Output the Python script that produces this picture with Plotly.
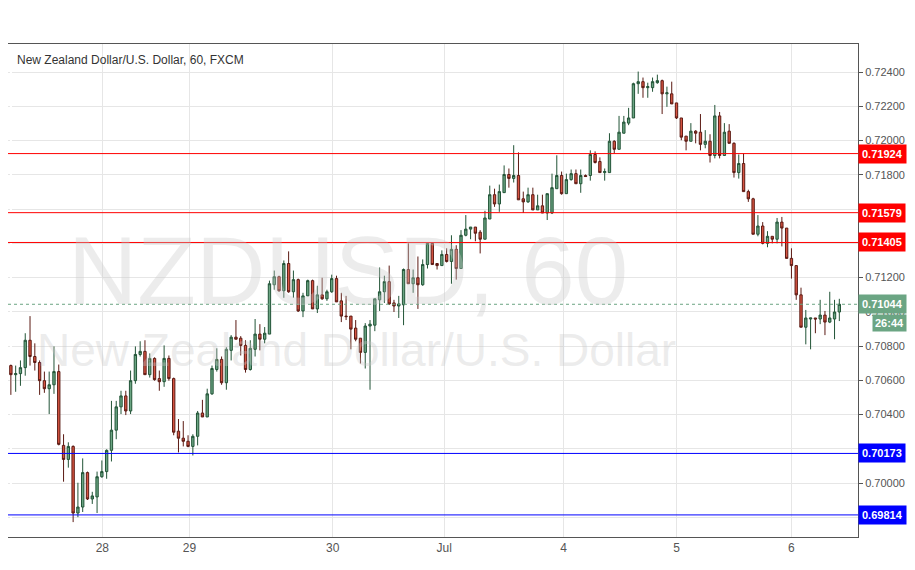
import plotly.graph_objects as go

# hourly candles, NZDUSD 60, values x1e-5
opens = [70686, 70633, 70639, 70674, 70834, 70739, 70704, 70598, 70551, 70574,
         70651, 70220, 70138, 70214, 69825, 69860, 70061, 69907, 69919, 70037,
         70067, 70191, 70309, 70445, 70509, 70421, 70598, 70751, 70769, 70633,
         70728, 70610, 70592, 70728, 70610, 70303, 70262, 70244, 70214, 70273,
         70409, 70386, 70521, 70663, 70722, 70586, 70775, 70852, 70846, 70804,
         70663, 70781, 70870, 70840, 70870, 71158, 71205, 71123, 71282, 71117,
         71188, 71005, 71093, 71182, 71017, 71099, 71076, 71117, 71194, 71064,
         70975, 70975, 70905, 70846, 70763, 70917, 70922, 71070, 71117, 71176,
         71052, 71034, 71041, 71247, 71164, 71199, 71158, 71276, 71400, 71282,
         71270, 71335, 71294, 71365, 71253, 71447, 71483, 71495, 71465, 71424,
         71542, 71684, 71630, 71696, 71802, 71779, 71796, 71660, 71642, 71684,
         71595, 71619, 71577, 71577, 71719, 71796, 71690, 71772, 71807, 71748,
         71796, 71796, 71919, 71878, 71813, 71813, 71996, 71949, 72043, 72102,
         72132, 72332, 72344, 72309, 72309, 72338, 72350, 72273, 72273, 72220,
         72132, 72026, 71996, 72055, 72049, 71978, 71996, 71913, 72144, 71913,
         72055, 71984, 71813, 71866, 71702, 71660, 71453, 71501, 71400, 71441,
         71424, 71524, 71489, 71312, 71270, 71099, 70910, 70958, 70964, 70958,
         70981, 70940, 70958, 70999]
highs = [70692, 70686, 70716, 70875, 70975, 70816, 70716, 70651, 70651, 70798,
         70692, 70285, 70238, 70220, 70002, 70144, 70067, 69949, 70067, 70132,
         70197, 70480, 70480, 70539, 70539, 70657, 70798, 70828, 70834, 70757,
         70734, 70657, 70804, 70745, 70616, 70374, 70362, 70279, 70285, 70421,
         70486, 70551, 70686, 70787, 70739, 70793, 70864, 70952, 70858, 70834,
         70834, 70958, 70928, 70911, 71182, 71241, 71211, 71300, 71353, 71241,
         71194, 71111, 71188, 71188, 71152, 71199, 71129, 71217, 71211, 71111,
         71093, 70975, 70952, 70846, 70934, 70952, 71076, 71259, 71211, 71270,
         71070, 71093, 71253, 71400, 71247, 71323, 71306, 71400, 71400, 71282,
         71359, 71371, 71447, 71389, 71477, 71565, 71495, 71495, 71477, 71590,
         71737, 71719, 71743, 71855, 71837, 71973, 71931, 71702, 71725, 71725,
         71684, 71684, 71690, 71807, 71914, 71819, 71807, 71831, 71831, 71831,
         71802, 71943, 71937, 71902, 71837, 72043, 72002, 72144, 72144, 72191,
         72338, 72403, 72368, 72338, 72368, 72385, 72356, 72315, 72344, 72220,
         72132, 72026, 72102, 72061, 72155, 72061, 72037, 72208, 72167, 72102,
         72096, 71990, 71919, 71925, 71713, 71666, 71565, 71524, 71471, 71441,
         71548, 71554, 71489, 71371, 71270, 71141, 71011, 70964, 70964, 71070,
         71005, 71117, 71070, 71076]
lows = [70515, 70533, 70568, 70627, 70686, 70657, 70515, 70527, 70403, 70521,
        70220, 70008, 70090, 69772, 69801, 69831, 69901, 69878, 69825, 70031,
        70025, 70126, 70256, 70403, 70397, 70403, 70580, 70739, 70633, 70616,
        70598, 70539, 70562, 70598, 70279, 70179, 70214, 70209, 70161, 70220,
        70386, 70386, 70515, 70651, 70574, 70545, 70716, 70840, 70745, 70645,
        70657, 70739, 70775, 70816, 70870, 71129, 71117, 71082, 71111, 71082,
        70999, 70969, 71093, 71017, 70993, 71070, 71064, 71111, 71058, 70940,
        70952, 70781, 70828, 70698, 70669, 70545, 70887, 71005, 71052, 71041,
        70999, 70964, 70922, 71164, 71111, 71017, 71152, 71253, 71276, 71247,
        71270, 71288, 71164, 71188, 71253, 71441, 71424, 71412, 71341, 71424,
        71542, 71613, 71584, 71696, 71725, 71755, 71654, 71577, 71636, 71595,
        71595, 71577, 71536, 71571, 71719, 71684, 71690, 71766, 71748, 71695,
        71790, 71766, 71866, 71813, 71766, 71813, 71925, 71949, 72043, 72090,
        72132, 72273, 72250, 72250, 72285, 72332, 72155, 72197, 72214, 72126,
        72002, 71943, 71996, 71984, 71943, 71955, 71872, 71896, 71896, 71913,
        71984, 71784, 71778, 71702, 71642, 71453, 71441, 71394, 71377, 71400,
        71400, 71382, 71312, 71194, 71070, 70910, 70810, 70781, 70875, 70928,
        70864, 70934, 70840, 70946]
closes = [70633, 70639, 70674, 70834, 70739, 70704, 70598, 70551, 70574, 70651,
          70226, 70138, 70214, 69825, 69860, 70061, 69907, 69925, 70037, 70067,
          70191, 70309, 70445, 70509, 70421, 70598, 70751, 70769, 70633, 70728,
          70604, 70592, 70728, 70610, 70297, 70262, 70244, 70214, 70273, 70409,
          70386, 70521, 70669, 70722, 70586, 70781, 70852, 70840, 70804, 70663,
          70787, 70870, 70840, 70875, 71164, 71205, 71123, 71282, 71117, 71188,
          71005, 71093, 71182, 71017, 71099, 71076, 71117, 71194, 71058, 70975,
          70972, 70899, 70840, 70763, 70917, 70928, 71076, 71117, 71176, 71046,
          71034, 71046, 71247, 71164, 71199, 71158, 71276, 71400, 71276, 71270,
          71335, 71294, 71365, 71253, 71447, 71483, 71495, 71459, 71424, 71548,
          71684, 71630, 71702, 71802, 71779, 71796, 71654, 71642, 71684, 71595,
          71619, 71577, 71690, 71725, 71796, 71690, 71772, 71807, 71748, 71796,
          71790, 71919, 71872, 71813, 71819, 71996, 71949, 72049, 72108, 72132,
          72332, 72344, 72309, 72315, 72344, 72350, 72273, 72279, 72214, 72132,
          72020, 71996, 72055, 72043, 71978, 71996, 71913, 72144, 71913, 72049,
          71984, 71813, 71866, 71702, 71660, 71453, 71501, 71400, 71441, 71424,
          71524, 71489, 71312, 71270, 71099, 70910, 70964, 70964, 70958, 70981,
          70940, 70964, 70999, 71044]

day_pos = [19.1, 37.3, 67.2, 90.5, 115.4, 139, 163]
day_labels = ["28", "29", "30", "Jul", "4", "5", "6"]
y_ticks = [0.698, 0.700, 0.702, 0.704, 0.706, 0.708, 0.710, 0.712, 0.714,
           0.716, 0.718, 0.720, 0.722, 0.724]
levels = [0.71924, 0.71579, 0.71405, 0.70173, 0.69814]
level_colors = ["#ff0000", "#ff0000", "#ff0000", "#0000ff", "#0000ff"]
last_price = 0.71044
countdown = "26:44"

sc = 1e-5
idx = list(range(len(opens)))
lab_font = dict(color="white", size=11, family="Arial")

fig = go.Figure()
fig.add_trace(go.Candlestick(
    x=idx, open=[v * sc for v in opens], high=[v * sc for v in highs],
    low=[v * sc for v in lows], close=[v * sc for v in closes],
    increasing=dict(fillcolor="#6ba583", line=dict(color="#225437", width=1)),
    decreasing=dict(fillcolor="#d75442", line=dict(color="#5b1a13", width=1)),
    whiskerwidth=0, showlegend=False, hoverinfo="skip"))

for lv, col in zip(levels, level_colors):
    fig.add_hline(y=lv, line=dict(color=col, width=1))
    fig.add_annotation(x=1.0, xref="paper", y=lv, yref="y", xanchor="left",
                       text=f"<b>{lv:.5f}</b>", showarrow=False, bgcolor=col,
                       font=lab_font, borderpad=3)

fig.add_hline(y=last_price, line=dict(color="#6ba583", width=1, dash="dot"))
fig.add_annotation(x=1.0, xref="paper", y=last_price, yref="y", xanchor="left",
                   text=f"<b>{last_price:.5f}</b>", showarrow=False, bgcolor="#6ba583",
                   font=lab_font, borderpad=3)
fig.add_annotation(x=1.0, xref="paper", y=last_price - 0.00112, yref="y", xanchor="left",
                   xshift=14, text=f"<b>{countdown}</b>", showarrow=False, bgcolor="#6ba583",
                   font=lab_font, borderpad=2)

# watermark + title
fig.add_annotation(x=0.4, xref="paper", y=0.54, yref="paper", text="NZDUSD, 60",
                   showarrow=False, font=dict(size=96, color="rgba(200,200,200,0.35)", family="Arial"))
fig.add_annotation(x=0.41, xref="paper", y=0.38, yref="paper", text="New Zealand Dollar/U.S. Dollar",
                   showarrow=False, font=dict(size=46, color="rgba(200,200,200,0.35)", family="Arial"))
fig.add_annotation(x=0.008, xref="paper", y=0.985, yref="paper", xanchor="left", yanchor="top",
                   text="New Zealand Dollar/U.S. Dollar, 60, FXCM", showarrow=False,
                   font=dict(size=12, color="#333333", family="Arial"))

fig.update_xaxes(range=[-0.6, 176.9], tickvals=day_pos, ticktext=day_labels, automargin=False,
                 showgrid=True, gridcolor="#e6e6e6", rangeslider_visible=False,
                 showline=True, linecolor="#555555", mirror=True, ticks="",
                 tickfont=dict(size=12, color="#555555", family="Arial"))
fig.update_yaxes(range=[0.69685, 0.72564], side="right", tickvals=y_ticks, automargin=False,
                 ticktext=[f"{t:.5f}" for t in y_ticks], showgrid=True, gridcolor="#e6e6e6",
                 showline=True, linecolor="#555555", mirror=True, ticks="outside",
                 ticklen=4, tickcolor="#555555",
                 tickfont=dict(size=11, color="#555555", family="Arial"))
fig.update_layout(width=900, height=554, margin=dict(l=0, r=50, t=36, b=25),
                  paper_bgcolor="white", plot_bgcolor="white", hovermode=False)
fig.write_html("out.html")
